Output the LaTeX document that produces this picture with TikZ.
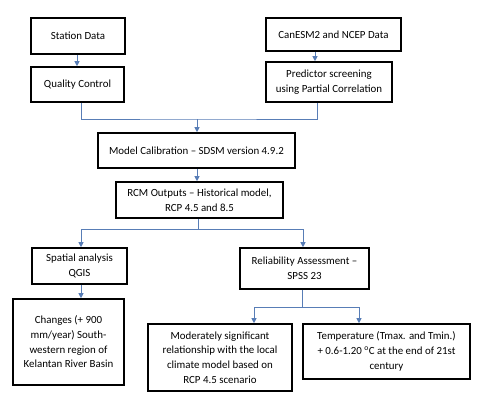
\documentclass[tikz,border=0pt]{standalone}
\usepackage{fontspec}
\setmainfont{Carlito}
\usepackage{tikz}
\usetikzlibrary{arrows.meta}
\definecolor{linkblue}{RGB}{88,125,182}

\begin{document}
\begin{tikzpicture}[x=1pt, y=-1pt,
    box/.style={draw, line width=1.6pt, align=center, inner sep=2pt,
                font=\fontsize{10.9}{14.7}\selectfont},
    arr/.style={draw=linkblue, line width=0.8pt, -{Triangle[width=5pt, length=5pt]}},
    link/.style={draw=linkblue, line width=0.8pt}]
          \useasboundingbox (0,0) rectangle (480,402);

          \node[box, minimum width=94pt,  minimum height=36pt](Station)  at ( 78.0, 36.0) {Station Data};
          \node[box, minimum width=93pt,  minimum height=35pt](Quality)  at ( 77.5, 84.5) {Quality Control};
          \node[box, minimum width=135pt, minimum height=33pt](CanESM)   at (333.5, 34.5) {CanESM2 and NCEP Data};
          \node[box, minimum width=126pt, minimum height=40pt](Screen)   at (329.0, 82.0) {Predictor screening\\using Partial Correlation};
          \node[box, minimum width=197pt, minimum height=35pt](Calib)    at (196.5,150.5) {Model Calibration -- SDSM version 4.9.2};
          \node[box, minimum width=167pt, minimum height=36pt](RCM)      at (199.5,200.0) {RCM Outputs -- Historical model,\\RCP 4.5 and 8.5};
          \node[box, minimum width=95pt,  minimum height=36pt](Spatial)  at ( 79.5,266.0) {Spatial analysis\\QGIS};
          \node[box, minimum width=129pt, minimum height=41pt](Reliab)   at (304.5,268.5) {Reliability Assessment --\\SPSS 23};
          \node[box, minimum width=111pt, minimum height=86pt](Changes)  at ( 68.5,342.0) {Changes (+ 900\\mm/year) South-\\western region of\\Kelantan River Basin};
          \node[box, minimum width=144pt, minimum height=67pt](Relation) at (220.0,357.5) {Moderately significant\\relationship with the local\\climate model based on\\RCP 4.5 scenario};
          \node[box, minimum width=167pt, minimum height=55pt](Temp)     at (386.5,351.5) {Temperature (Tmax. and Tmin.)\\+ 0.6-1.20 \textsuperscript{o}C at the end of 21st\\century};

          \coordinate (J1) at (197,119);
          \coordinate (J2) at (198,229);
          \coordinate (J3) at (302,307);

          \draw[arr] ([xshift=-1pt]Station.south) -- ([xshift=-0.5pt]Quality.north);
          \draw[arr] ([xshift=-18.5pt]CanESM.south) -- ([xshift=-14pt]Screen.north);

          \draw[link] ([xshift=3.5pt]Quality.south) |- (J1) -| ([xshift=-12pt]Screen.south);
          \draw[arr] (J1) -- ([xshift=0.5pt]Calib.north);
          \draw[arr] ([xshift=0.5pt]Calib.south) -- ([xshift=-2.5pt]RCM.north);

          \draw[link] ([xshift=-1.5pt]RCM.south) -- (J2);
          \draw[arr] (J2) -| ([xshift=1.5pt]Spatial.north);
          \draw[arr] (J2) -| ([xshift=-1.5pt]Reliab.north);
          \draw[arr] ([xshift=1.5pt]Spatial.south) -- ([xshift=12.5pt]Changes.north);

          \draw[link] ([xshift=-2.5pt]Reliab.south) -- (J3);
          \draw[arr] (J3) -| ([xshift=34pt]Relation.north);
          \draw[arr] (J3) -| ([xshift=-27.5pt]Temp.north);
        \end{tikzpicture}
\end{document}
